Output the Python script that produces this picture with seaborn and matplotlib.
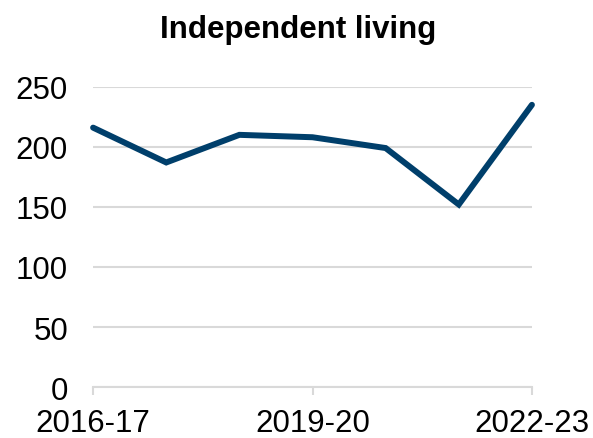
import pandas as pd
import seaborn as sns
import matplotlib.pyplot as plt

# Data
years = ["2016-17", "2017-18", "2018-19", "2019-20", "2020-21", "2021-22", "2022-23"]
values = [216, 187, 210, 208, 199, 152, 235]
shown_labels = ["2016-17", "2019-20", "2022-23"]

df = pd.DataFrame({"year": years, "value": values})
df["pos"] = range(len(years))

sns.set_style("white")
plt.rcParams["font.family"] = ["Liberation Sans", "DejaVu Sans"]
plt.rcParams["text.color"] = "black"
plt.rcParams["xtick.labelcolor"] = "black"
plt.rcParams["ytick.labelcolor"] = "black"

fig = plt.figure(figsize=(5.93, 4.39), dpi=100)
ax = fig.add_axes([0.157, 0.116, 0.740, 0.684])

sns.lineplot(data=df, x="pos", y="value", ax=ax, color="#003f6b",
             linewidth=4.3, solid_capstyle="round", solid_joinstyle="miter")
for ln in ax.lines:
    ln.set_clip_on(False)

ax.set_xlim(0, len(years) - 1)
ax.set_ylim(0, 250)
ax.set_yticks(range(0, 251, 50))
ax.yaxis.grid(True, color="#d9d9d9", linewidth=1.5)
ax.set_axisbelow(True)

tick_pos = [years.index(y) for y in shown_labels]
ax.set_xticks(tick_pos)
ax.set_xticklabels(shown_labels)

for side in ["top", "right", "left"]:
    ax.spines[side].set_visible(False)
ax.spines["bottom"].set_color("#d9d9d9")
ax.spines["bottom"].set_linewidth(1.5)

ax.tick_params(axis="x", length=6, width=1.5, color="#d9d9d9", labelsize=22.5, pad=9, direction="out", bottom=True)
ax.tick_params(axis="y", length=0, labelsize=22.5, pad=18)

ax.set_xlabel("")
ax.set_ylabel("")
fig.suptitle("Independent living", fontsize=22.5, fontweight="bold", x=0.503, y=0.965)

fig.savefig("out.png", dpi=100)
